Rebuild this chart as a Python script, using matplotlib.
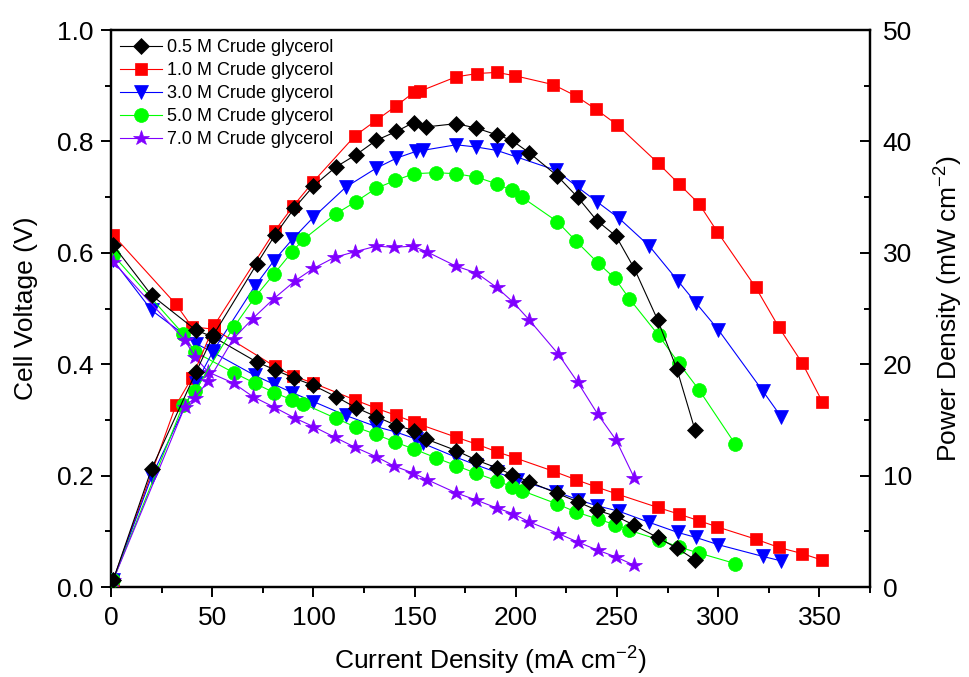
import matplotlib
matplotlib.use('Agg')
import matplotlib.pyplot as plt
from matplotlib.ticker import MultipleLocator
from matplotlib.lines import Line2D

plt.rcParams['font.family'] = ['Liberation Sans', 'DejaVu Sans']
plt.rcParams['mathtext.default'] = 'regular'

# current density (mA cm-2), cell voltage (V), power density (mW cm-2)
i_05 = [1, 20, 42, 50.5, 72, 81, 90.5, 100, 111, 121, 131, 141, 149.5, 155.5, 170.5,
        180.5, 190.5, 198, 206.5, 220.5, 230.5, 240, 249.5, 258.5, 270, 279.5, 288.5]
v_05 = [0.614, 0.524, 0.461, 0.449, 0.404, 0.390, 0.375, 0.362, 0.342, 0.322, 0.306,
        0.290, 0.281, 0.266, 0.245, 0.228, 0.214, 0.202, 0.189, 0.168, 0.153, 0.138,
        0.127, 0.111, 0.089, 0.070, 0.049]
p_05 = [0.6, 10.6, 19.3, 22.6, 29.0, 31.6, 34.0, 36.0, 37.7, 38.8, 40.1, 40.9, 41.7,
        41.3, 41.6, 41.2, 40.6, 40.1, 39.0, 36.9, 35.0, 32.9, 31.5, 28.6, 24.0, 19.6, 14.1]

i_10 = [1, 32, 40, 51, 81, 90, 100, 120.5, 131, 141, 149.5, 152.5, 170.5, 181, 190.5,
        199.5, 218.5, 229.5, 239.5, 250, 270, 280.5, 290.5, 299.5, 318.5, 330, 341.5, 351.5]
v_10 = [0.632, 0.508, 0.467, 0.463, 0.396, 0.379, 0.366, 0.336, 0.321, 0.308, 0.296,
        0.292, 0.269, 0.256, 0.243, 0.232, 0.208, 0.193, 0.180, 0.167, 0.143, 0.131,
        0.119, 0.108, 0.086, 0.071, 0.060, 0.048]
p_10 = [0.6, 16.3, 18.8, 23.5, 32.0, 34.2, 36.4, 40.5, 41.9, 43.2, 44.4, 44.5, 45.8,
        46.1, 46.2, 45.9, 45.1, 44.1, 42.9, 41.5, 38.1, 36.2, 34.4, 31.9, 26.9, 23.3,
        20.1, 16.6]

i_30 = [1, 20, 42, 50.5, 71, 80.5, 89.5, 100, 116, 131, 141, 150.5, 154, 170.5, 180.5,
        190.5, 200.5, 220, 230.5, 240, 251, 266, 280, 289, 300, 322, 331]
v_30 = [0.587, 0.497, 0.437, 0.421, 0.380, 0.364, 0.349, 0.333, 0.308, 0.288, 0.278,
        0.266, 0.258, 0.233, 0.219, 0.206, 0.193, 0.171, 0.157, 0.146, 0.136, 0.116,
        0.098, 0.089, 0.076, 0.055, 0.047]
p_30 = [0.6, 9.9, 18.3, 21.2, 27.0, 29.3, 31.2, 33.2, 35.9, 37.6, 38.5, 39.1, 39.2,
        39.7, 39.5, 39.2, 38.6, 37.4, 35.9, 34.6, 33.1, 30.6, 27.5, 25.5, 23.1, 17.6, 15.3]

i_50 = [1, 35.5, 41.5, 60.5, 71, 80.5, 89.5, 95, 111, 121, 131, 140.5, 149.5, 160.5,
        170.5, 180.5, 190.5, 198, 203, 220.5, 229.5, 240.5, 249, 256, 270.5, 280.5,
        290.5, 308.5]
v_50 = [0.596, 0.455, 0.422, 0.385, 0.366, 0.349, 0.336, 0.329, 0.303, 0.287, 0.274,
        0.260, 0.248, 0.232, 0.218, 0.204, 0.191, 0.180, 0.173, 0.149, 0.135, 0.122,
        0.112, 0.102, 0.085, 0.072, 0.061, 0.042]
p_50 = [0.6, 16.3, 17.6, 23.3, 26.0, 28.1, 30.1, 31.2, 33.5, 34.6, 35.8, 36.5, 37.1,
        37.2, 37.1, 36.8, 36.2, 35.6, 35.0, 32.8, 31.1, 29.1, 27.7, 25.9, 22.6, 20.1,
        17.7, 12.8]

i_70 = [1, 36.5, 41.5, 48, 60.5, 70, 80.5, 91, 100, 110.5, 120.5, 131, 140, 149, 156,
        170.5, 180.5, 190.5, 198.5, 206.5, 221, 230.5, 240.5, 249.5, 258.5]
v_70 = [0.584, 0.443, 0.413, 0.386, 0.366, 0.342, 0.323, 0.303, 0.288, 0.269, 0.251,
        0.234, 0.217, 0.205, 0.193, 0.169, 0.156, 0.142, 0.132, 0.117, 0.096, 0.081,
        0.066, 0.054, 0.039]
p_70 = [0.6, 16.2, 17.0, 18.5, 22.3, 24.1, 25.9, 27.5, 28.6, 29.6, 30.1, 30.6, 30.5,
        30.6, 30.1, 28.8, 28.2, 26.9, 25.6, 24.0, 20.9, 18.4, 15.5, 13.2, 9.8]

labels = ['0.5 M Crude glycerol', '1.0 M Crude glycerol', '3.0 M Crude glycerol',
          '5.0 M Crude glycerol', '7.0 M Crude glycerol']
colors = ['#000000', '#ff0000', '#0000ff', '#00ff00', '#8000ff']
markers = ['D', 's', 'v', 'o', '*']
msizes = [8.3, 8.6, 10.5, 10, 11.5]
order_z = [10, 6, 7, 8, 9]

series = [(i_05, v_05, p_05), (i_10, v_10, p_10), (i_30, v_30, p_30),
          (i_50, v_50, p_50), (i_70, v_70, p_70)]

fig = plt.figure(figsize=(9.69, 6.77), dpi=100)
ax = fig.add_axes([0.1146, 0.1329, 0.7833, 0.8227])
ax2 = ax.twinx()

for (cur, volt, pw), c, m, ms, z in zip(series, colors, markers, msizes, order_z):
    kw = dict(color=c, marker=m, ms=ms, mec=c, mfc=c, mew=0.5, lw=0.8, zorder=z)
    ax.plot(cur, volt, **kw)
    ax2.plot(cur, pw, **kw)

ax.set_xlim(0, 375)
ax.set_ylim(0, 1.0)
ax2.set_ylim(0, 50)

ax.xaxis.set_major_locator(MultipleLocator(50))
ax.xaxis.set_minor_locator(MultipleLocator(25))
ax.yaxis.set_major_locator(MultipleLocator(0.2))
ax.yaxis.set_minor_locator(MultipleLocator(0.1))
ax2.yaxis.set_major_locator(MultipleLocator(10))
ax2.yaxis.set_minor_locator(MultipleLocator(5))
ax.yaxis.set_major_formatter(plt.FormatStrFormatter('%.1f'))

for a in (ax, ax2):
    for s in a.spines.values():
        s.set_linewidth(1.6)

ax.tick_params(axis='both', which='major', direction='out', length=7.5, width=1.4,
               labelsize=19, top=False, right=False)
ax.tick_params(axis='both', which='minor', direction='out', length=4, width=1.4,
               top=False, right=False)
ax.tick_params(axis='x', pad=6)
ax.tick_params(axis='y', pad=5)
ax2.tick_params(axis='y', which='major', direction='in', length=7.5, width=1.4,
                labelsize=19, pad=9)
ax2.tick_params(axis='y', which='minor', direction='in', length=4.5, width=1.4)

ax.set_xlabel('Current Density (mA cm$^{-2}$)', fontsize=19)
ax.set_ylabel('Cell Voltage (V)', fontsize=19)
ax2.set_ylabel('Power Density (mW cm$^{-2}$)', fontsize=19)
ax.xaxis.set_label_coords(0.5, -0.104)
ax.yaxis.set_label_coords(-0.096, 0.5)
ax2.yaxis.set_label_coords(1.082, 0.5)

handles = [Line2D([], [], color=c, marker=m, ms=ms, mec=c, mfc=c, mew=0.5, lw=0.8)
           for c, m, ms in zip(colors, markers, msizes)]
ax2.legend(handles, labels, loc='upper left', bbox_to_anchor=(0.0, 1.0),
           frameon=False, fontsize=13, handlelength=2.3, handletextpad=0.3,
           labelspacing=0.33, borderpad=0.3, borderaxespad=0.2)

fig.savefig('out.png', dpi=100)
